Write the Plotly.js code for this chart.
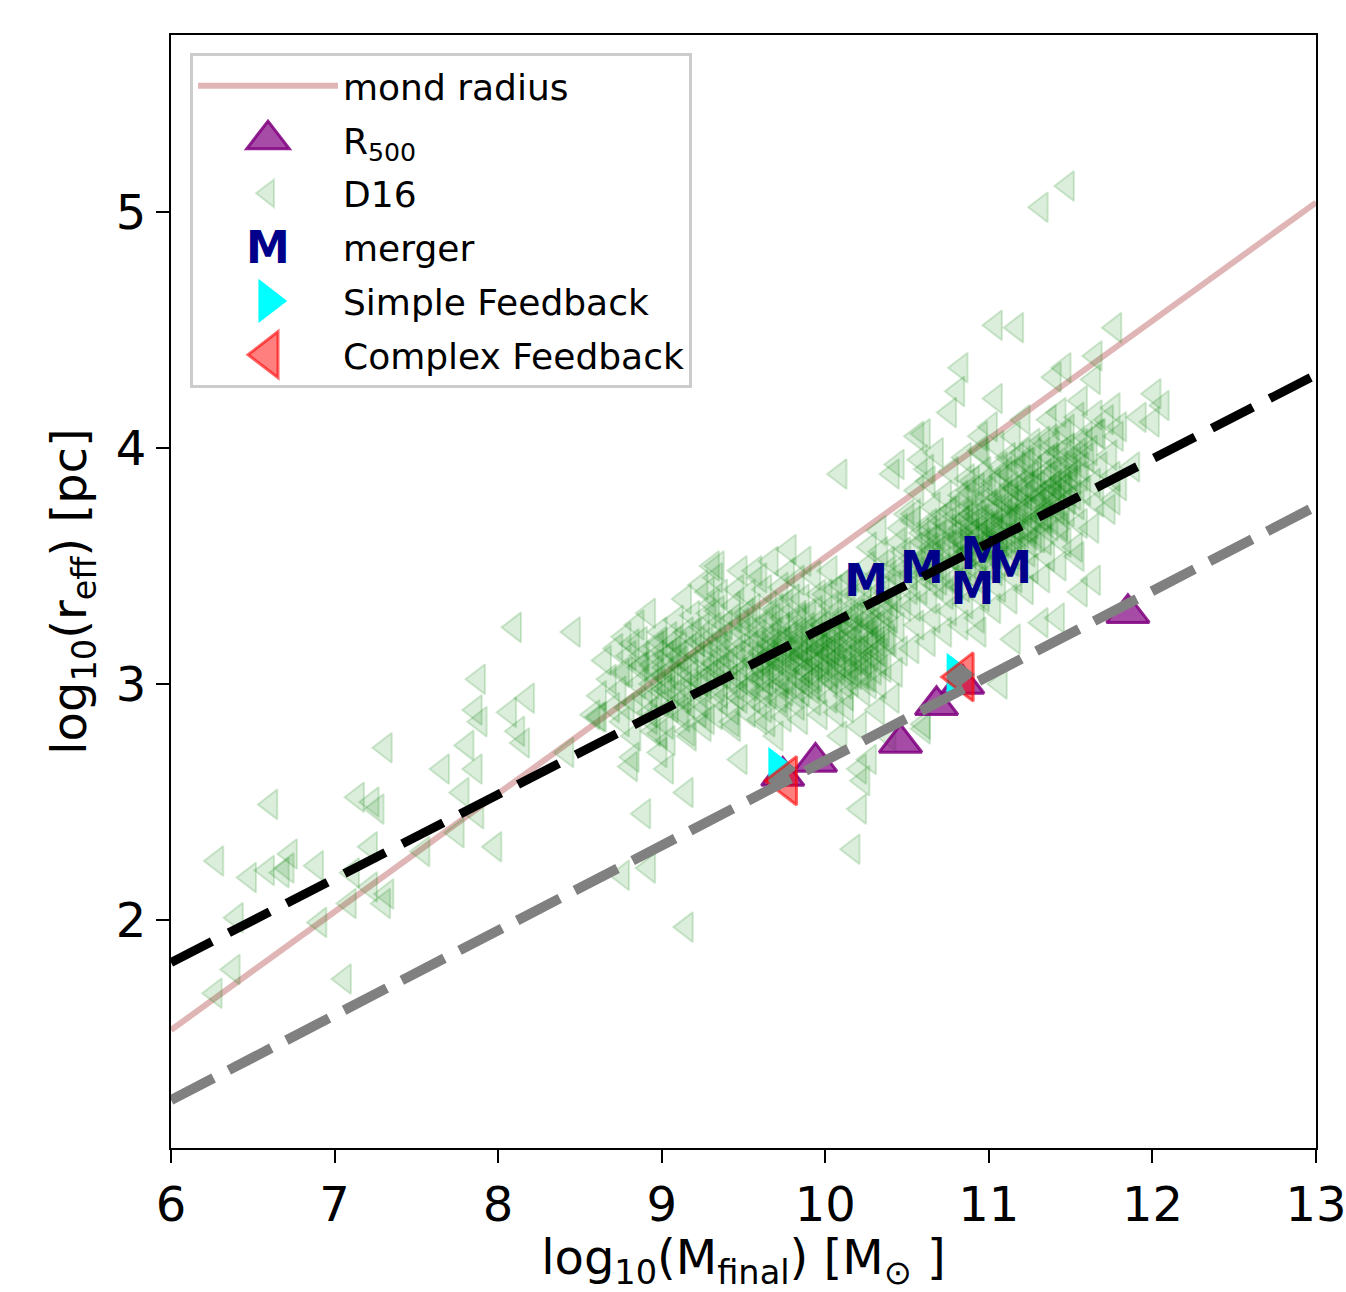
<!DOCTYPE html>
<html>
<head>
<meta charset="utf-8">
<script src="https://cdn.plot.ly/plotly-3.0.1.min.js"></script>
<style>
  html, body { margin: 0; padding: 0; background: #ffffff; }
  #chart { width: 1346px; height: 1292px; }
</style>
</head>
<body>
<div id="chart"></div>
<script>
// ---------------- data ----------------
// straight reference lines (end points at log10 M = 6 and 13)
const lineX = [6, 13];
const mondY = [1.534, 5.04];
const fitBlackY = [1.82, 4.31];
const fitGrayY = [1.237, 3.754];

// axis ticks
const xTicks = [6, 7, 8, 9, 10, 11, 12, 13];
const yTicks = [2, 3, 4, 5];

// R500 (purple up-triangles)
const r500X = [9.74, 9.94, 10.46, 10.68, 10.84, 11.85];
const r500Y = [2.61, 2.67, 2.75, 2.91, 3.00, 3.30];

// merger ("M" text markers)
const mergerX = [10.25, 10.59, 10.96, 10.90, 11.13];
const mergerY = [3.42, 3.475, 3.534, 3.386, 3.475];

// Simple Feedback (cyan right-triangles)
const simpleX = [9.71, 10.80];
const simpleY = [2.64, 3.04];

// Complex Feedback (red left-triangles)
const complexX = [9.76, 10.84];
const complexY = [2.59, 3.03];

// D16 sample (green left-triangles), [log10 M, log10 r]
const d16Left = [
  [8.10,3.24],[8.46,3.22],[7.88,3.02],[8.18,2.94],[7.86,2.89],[8.07,2.88],[7.89,2.84],[8.12,2.80],
  [8.15,2.75],[7.81,2.74],[7.31,2.73],[8.61,2.86],[8.42,2.71],[7.66,2.64],[7.86,2.64],[7.78,2.54],
  [7.14,2.52],[7.23,2.50],[7.26,2.47],[6.61,2.49],[7.87,2.45],[7.75,2.37],[7.98,2.31],[7.54,2.29],
  [7.22,2.31],[6.28,2.25],[6.73,2.28],[6.71,2.22],[6.59,2.21],[6.48,2.18],[6.89,2.23],[6.68,2.20],
  [7.11,2.20],[7.22,2.14],[7.32,2.11],[7.30,2.07],[7.09,2.07],[6.40,2.01],[6.91,1.99],[6.38,1.79],
  [7.06,1.75],[6.27,1.69],[8.58,2.87]
];
const d16Mid = [
  [9.78,3.57],[9.34,3.50],[9.48,3.48],[9.60,3.45],[9.28,3.39],[9.31,3.34],[8.82,3.17],[8.97,3.16],
  [8.76,3.05],[8.87,3.07],[9.03,3.12],[9.11,3.16],[8.62,2.86],[8.79,2.90],[8.93,2.85],[8.99,2.79],
  [8.82,2.69],[8.99,2.71],[9.17,2.78],[9.28,2.85],[9.44,2.82],[9.15,2.54],[8.89,2.45],[9.60,2.85],
  [9.70,2.78],[10.09,2.78],[10.21,2.82],[10.32,2.89],[10.21,2.64],[10.23,2.59],[10.21,2.47],[10.17,2.30],
  [10.41,2.94],[8.92,2.22],[8.76,2.19],[9.15,1.97],[9.03,2.64],[8.81,2.65],[9.48,2.68],[10.39,2.78],
  [10.60,2.81],[10.27,2.68],[8.99,3.18],[9.31,3.50],[10.09,3.89],[10.56,4.05],[10.41,3.89],[10.62,3.91],
  [10.27,3.58],[10.33,3.65],[10.54,3.69],[10.64,3.65],[11.07,3.00],[11.15,3.19],[10.94,3.22],[10.60,2.83]
];
const d16Upper = [
  [11.48,5.11],[11.32,5.02],[11.04,4.52],[11.17,4.51],[11.77,4.51],[10.83,4.34],[11.46,4.34],[11.65,4.39],
  [11.40,4.30],[10.81,4.24],[11.04,4.21],[11.64,4.29],[12.01,4.23],[12.06,4.18],[10.76,4.15],[11.56,4.20],
  [11.76,4.17],[11.92,4.13],[12.00,4.11],[10.60,4.06],[11.01,4.09],[11.21,4.12],[10.68,3.98],[10.44,3.93],
  [10.58,3.95],[10.95,4.05],[10.96,3.98],[11.21,3.98],[11.39,4.01],[11.56,4.02],[11.66,4.06],[11.80,4.09]
];
const d16Right = [
  [11.64,3.44],[11.56,3.39],[11.32,3.26],[11.42,3.28],[11.76,3.78],[11.88,3.92],[11.80,3.84],[11.54,3.54]
];
const d16CoreLow = [
  [8.62,2.95],[8.68,3.02],[8.65,3.10],[8.70,2.90],[8.72,3.15],
  [8.74,2.97],[8.78,3.05],[8.76,2.84],[8.80,3.12],[8.77,3.20],
  [8.84,2.92],[8.86,3.00],[8.88,3.08],[8.83,2.78],[8.87,3.18],[8.85,3.25],
  [8.93,2.88],[8.96,2.95],[8.98,3.02],[8.94,3.08],[8.97,3.12],[8.95,2.80],[8.99,3.22],[8.92,3.30],
  [9.03,2.83],[9.06,2.90],[9.04,2.97],[9.08,3.03],[9.02,3.07],[9.07,3.14],[9.05,3.20],[9.09,3.27],[9.04,2.76],
  [9.13,2.86],[9.16,2.92],[9.14,2.99],[9.18,3.04],[9.12,3.10],[9.17,3.15],[9.15,3.22],[9.19,3.29],[9.14,3.36],[9.16,2.80],
  [9.23,2.88],[9.26,2.95],[9.24,3.01],[9.28,3.06],[9.22,3.12],[9.27,3.18],[9.25,3.24],[9.29,3.30],[9.24,3.42],[9.26,2.82],
  [9.33,2.87],[9.36,2.93],[9.34,2.99],[9.38,3.04],[9.32,3.09],[9.37,3.13],[9.35,3.19],[9.39,3.25],[9.34,3.31],[9.36,3.38],[9.33,3.45],
  [9.43,2.89],[9.46,2.95],[9.44,3.00],[9.48,3.05],[9.42,3.10],[9.47,3.15],[9.45,3.20],[9.49,3.26],[9.44,3.33],[9.46,3.40],[9.43,2.84],
  [9.53,2.88],[9.56,2.94],[9.54,2.99],[9.58,3.03],[9.52,3.07],[9.57,3.11],[9.55,3.16],[9.59,3.21],[9.54,3.26],[9.56,3.32],[9.53,3.38],[9.57,3.48],
  [9.63,2.90],[9.66,2.96],[9.64,3.01],[9.68,3.05],[9.62,3.09],[9.67,3.13],[9.65,3.17],[9.69,3.22],[9.64,3.27],[9.66,3.33],[9.63,3.40],[9.67,3.52],[9.65,2.84],
  [9.73,2.92],[9.76,2.97],[9.74,3.02],[9.78,3.06],[9.72,3.10],[9.77,3.14],[9.75,3.18],[9.79,3.23],[9.74,3.28],[9.76,3.34],[9.73,3.41],[9.77,3.47],[9.75,2.86],
  [9.83,2.91],[9.86,2.97],[9.84,3.02],[9.88,3.06],[9.82,3.10],[9.87,3.14],[9.85,3.19],[9.89,3.24],[9.84,3.29],[9.86,3.36],[9.83,3.44],[9.87,3.52],[9.85,2.85],
  [9.93,2.93],[9.96,2.98],[9.94,3.03],[9.98,3.07],[9.92,3.11],[9.97,3.15],[9.95,3.20],[9.99,3.25],[9.94,3.31],[9.96,3.38],[9.93,3.46],[9.97,2.87],
  [10.03,2.94],[10.06,3.00],[10.04,3.05],[10.08,3.09],[10.02,3.13],[10.07,3.17],[10.05,3.22],[10.09,3.27],[10.04,3.33],[10.06,3.40],[10.03,3.48],[10.07,2.88],
  [10.13,2.95],[10.16,3.01],[10.14,3.06],[10.18,3.10],[10.12,3.14],[10.17,3.19],[10.15,3.24],[10.19,3.30],[10.14,3.37],[10.16,3.45],[10.13,2.90],
  [10.23,2.97],[10.26,3.03],[10.24,3.08],[10.28,3.12],[10.22,3.16],[10.27,3.21],[10.25,3.27],[10.29,3.34],[10.24,3.42],[10.26,3.50],
  [10.33,3.00],[10.36,3.07],[10.34,3.13],[10.38,3.19],[10.32,3.25],[10.37,3.32],[10.35,3.40],[10.39,3.48],[10.34,3.56],
  [10.43,3.05],[10.46,3.14],[10.44,3.24],[10.48,3.33],[10.42,3.42],[10.47,3.50],[10.45,3.60]
];
const d16CoreHigh = [
  [10.53,3.15],[10.56,3.25],[10.54,3.33],[10.58,3.40],[10.52,3.46],[10.57,3.52],[10.55,3.58],[10.59,3.64],[10.54,3.72],[10.56,3.82],
  [10.63,3.18],[10.66,3.28],[10.64,3.36],[10.68,3.42],[10.62,3.48],[10.67,3.53],[10.65,3.58],[10.69,3.63],[10.64,3.68],[10.66,3.75],[10.63,3.86],
  [10.73,3.22],[10.76,3.31],[10.74,3.38],[10.78,3.44],[10.72,3.49],[10.77,3.54],[10.75,3.59],[10.79,3.63],[10.74,3.68],[10.76,3.73],[10.73,3.80],[10.77,3.90],
  [10.83,3.25],[10.86,3.34],[10.84,3.41],[10.88,3.47],[10.82,3.52],[10.87,3.56],[10.85,3.60],[10.89,3.64],[10.84,3.69],[10.86,3.74],[10.83,3.80],[10.87,3.87],[10.85,3.96],
  [10.93,3.28],[10.96,3.37],[10.94,3.44],[10.98,3.50],[10.92,3.55],[10.97,3.59],[10.95,3.63],[10.99,3.67],[10.94,3.72],[10.96,3.77],[10.93,3.83],[10.97,3.90],[10.95,3.99],
  [11.03,3.32],[11.06,3.41],[11.04,3.48],[11.08,3.54],[11.02,3.58],[11.07,3.62],[11.05,3.66],[11.09,3.70],[11.04,3.74],[11.06,3.79],[11.03,3.85],[11.07,3.92],[11.05,4.01],
  [11.13,3.36],[11.16,3.45],[11.14,3.52],[11.18,3.58],[11.12,3.62],[11.17,3.66],[11.15,3.70],[11.19,3.74],[11.14,3.78],[11.16,3.83],[11.13,3.89],[11.17,3.96],[11.15,4.05],
  [11.23,3.40],[11.26,3.49],[11.24,3.56],[11.28,3.62],[11.22,3.66],[11.27,3.70],[11.25,3.74],[11.29,3.78],[11.24,3.83],[11.26,3.88],[11.23,3.94],[11.27,4.02],
  [11.33,3.45],[11.36,3.54],[11.34,3.61],[11.38,3.67],[11.32,3.71],[11.37,3.75],[11.35,3.79],[11.39,3.84],[11.34,3.89],[11.36,3.95],[11.33,4.03],[11.37,4.12],
  [11.43,3.50],[11.46,3.60],[11.44,3.67],[11.48,3.73],[11.42,3.78],[11.47,3.82],[11.45,3.87],[11.49,3.92],[11.44,3.98],[11.46,4.06],[11.43,4.15],
  [11.53,3.58],[11.56,3.68],[11.54,3.76],[11.58,3.82],[11.52,3.87],[11.57,3.92],[11.55,3.98],[11.59,4.05],[11.54,4.13],
  [11.63,3.66],[11.66,3.77],[11.64,3.85],[11.68,3.92],[11.62,3.99],[11.67,4.06],[11.65,4.14],
  [11.73,3.74],[11.76,3.88],[11.74,3.97],[11.78,4.05],[11.72,4.12]
];
const d16DenseA = [
  [9.62,3.02],[9.66,3.12],[9.70,3.06],[9.72,3.18],[9.78,3.00],[9.80,3.10],[9.82,3.16],[9.86,3.05],
  [9.88,3.22],[9.90,3.12],[9.92,3.02],[9.94,3.18],[9.98,3.10],[10.00,3.04],[10.02,3.20],[10.04,3.14],
  [10.08,3.06],[10.10,3.24],[10.12,3.10],[10.14,3.18],[10.18,3.04],[10.20,3.14],[10.22,3.22],[10.24,3.10],
  [10.28,3.18],[10.30,3.06],[10.32,3.14],[10.26,3.28],[10.16,3.28],[10.06,3.30],[9.96,3.26],[9.84,3.28],
  [9.74,3.24],[9.68,3.28],[9.58,3.18],[9.52,3.12],[9.48,3.02],[9.40,3.08],[9.36,3.16],[9.30,3.04],
  [9.26,3.12],[9.20,3.00],[9.14,3.06],[9.10,2.96],[9.04,3.02],[9.00,2.92],[8.94,3.00],[8.90,2.94]
];
const d16DenseB = [
  [10.72,3.58],[10.76,3.66],[10.80,3.52],[10.82,3.62],[10.86,3.70],[10.88,3.56],[10.90,3.64],[10.92,3.76],
  [10.96,3.60],[10.98,3.68],[11.00,3.56],[11.02,3.72],[11.04,3.64],[11.08,3.78],[11.10,3.60],[11.12,3.68],
  [11.14,3.84],[11.18,3.72],[11.20,3.64],[11.22,3.80],[11.26,3.68],[11.28,3.86],[11.30,3.76],[11.34,3.70],
  [11.36,3.82],[11.40,3.90],[11.42,3.74],[11.46,3.84],[11.50,3.94],[11.52,3.80],[11.10,3.90],[11.00,3.82],
  [10.90,3.86],[10.84,3.78],[10.78,3.74],[10.70,3.70],[10.66,3.62],[10.62,3.54],[10.60,3.46],[10.70,3.44],
  [10.80,3.42],[10.94,3.48],[11.06,3.52],[11.16,3.56],[11.30,3.62],[11.44,3.66],[11.56,3.88],[11.60,3.96],
  [11.48,4.00],[11.38,3.96],[11.24,3.94],[11.12,3.96]
];
const d16DenseC = [
  [9.55,3.00],[9.58,3.08],[9.61,3.14],[9.64,3.04],[9.67,3.20],[9.70,3.10],[9.73,3.00],[9.76,3.16],
  [9.79,3.08],[9.82,3.22],[9.85,3.12],[9.88,3.00],[9.91,3.18],[9.94,3.08],[9.97,3.24],[10.00,3.14],
  [10.03,3.02],[10.06,3.20],[10.09,3.12],[10.12,3.30],[10.15,3.04],[10.18,3.22],[10.21,3.10],[10.24,3.34],
  [10.27,3.00],[10.30,3.24],[10.33,3.10],[10.36,3.30],[10.39,3.18],[10.42,3.36],
  [9.60,3.24],[9.70,3.32],[9.80,3.36],[9.90,3.30],[10.00,3.38],[10.10,3.42],[10.20,3.38],[10.30,3.44],[10.40,3.28],
  [9.62,2.96],[9.72,2.94],[9.82,2.96],[9.92,2.98],[10.02,3.08],[10.12,3.00],[10.22,3.04],[10.32,3.18],
  [9.65,3.10],[9.75,3.12],[9.85,3.16],[9.95,3.14],[10.05,3.16],[10.15,3.14],[10.25,3.16],[10.35,3.22],
  [9.68,3.16],[9.78,3.20],[9.88,3.10],[9.98,3.20],[10.08,3.24],[10.18,3.28],[10.28,3.26]
];
const d16DenseD = [
  [10.80,3.60],[10.83,3.66],[10.86,3.58],[10.89,3.72],[10.92,3.62],[10.95,3.70],[10.98,3.58],[11.01,3.76],
  [11.04,3.68],[11.07,3.60],[11.10,3.80],[11.13,3.70],[11.16,3.62],[11.19,3.84],[11.22,3.74],[11.25,3.66],
  [11.28,3.90],[11.31,3.80],[11.34,3.72],[11.37,3.88],[11.40,3.78],[11.43,3.94],[11.46,3.86],[11.49,3.78],[11.52,3.96],
  [10.85,3.50],[10.95,3.54],[11.05,3.58],[11.15,3.64],[11.25,3.60],[11.35,3.66],[11.45,3.72],
  [10.88,3.82],[10.98,3.86],[11.08,3.88],[11.18,3.92],[11.28,3.98],[11.38,4.04],[11.48,4.08],
  [10.90,3.68],[11.00,3.66],[11.10,3.72],[11.20,3.78],[11.30,3.84],[11.40,3.84],[11.50,3.88],
  [10.93,3.58],[11.03,3.62],[11.13,3.76],[11.23,3.84],[11.33,3.78],[11.43,3.82],
  [10.40,3.34],[10.44,3.46],[10.48,3.56],[10.52,3.40],[10.56,3.50],[10.60,3.60],[10.64,3.50],[10.68,3.58],
  [10.46,3.66],[10.50,3.72],[10.38,3.52]
];
const d16DenseE = [
  [9.02,2.98],[9.06,3.06],[9.10,3.12],[9.14,2.94],[9.18,3.08],[9.22,3.18],[9.26,3.00],[9.30,3.14],
  [9.34,3.06],[9.38,3.20],[9.42,3.02],[9.46,3.12],[9.50,3.22],[9.44,3.28],[9.32,3.24],[9.20,3.22],
  [9.08,3.18],[9.12,2.88],[9.24,2.92],[9.36,2.96],[9.48,2.94],[9.52,3.30],[8.96,3.06],[8.88,3.12]
];

const d16All = [].concat(d16Left, d16Mid, d16Upper, d16Right, d16CoreLow, d16CoreHigh,
                         d16DenseA, d16DenseB, d16DenseC, d16DenseD, d16DenseE);
const d16X = d16All.map(p => p[0]);
const d16Y = d16All.map(p => p[1]);

// ---------------- figure ----------------
const FONT = 'DejaVu Sans, Verdana, sans-serif';

const traces = [
  { type: 'scatter', mode: 'lines', name: 'mond radius', x: lineX, y: mondY,
    line: { color: 'rgba(165,42,42,0.35)', width: 6 }, legendrank: 1, legendgroup: 'g1' },
  { type: 'scatter', mode: 'markers', name: 'D16', x: d16X, y: d16Y,
    marker: { symbol: 'triangle-left', size: 26, color: 'rgba(0,128,0,0.14)',
              line: { color: 'rgba(0,128,0,0.17)', width: 2 } }, legendrank: 3, legendgroup: 'g3' },
  { type: 'scatter', mode: 'markers', name: 'R<sub>500</sub>', x: r500X, y: r500Y,
    marker: { symbol: 'triangle-up', size: 37, color: 'rgba(128,0,128,0.7)',
              line: { color: 'rgba(128,0,128,0.85)', width: 3 } }, legendrank: 2, legendgroup: 'g2' },
  { type: 'scatter', mode: 'text', name: 'merger', x: mergerX, y: mergerY, text: mergerX.map(() => 'M'),
    textposition: 'middle center',
    textfont: { family: FONT, size: 44, color: '#00008b', weight: 'bold' }, legendrank: 4, legendgroup: 'g4' },
  { type: 'scatter', mode: 'markers', name: 'Simple Feedback', x: simpleX, y: simpleY,
    marker: { symbol: 'triangle-right', size: 38, color: '#00ffff', line: { width: 0 } }, legendrank: 5, legendgroup: 'g5' },
  { type: 'scatter', mode: 'markers', name: 'Complex Feedback', x: complexX, y: complexY,
    marker: { symbol: 'triangle-left', size: 42, color: 'rgba(255,0,0,0.5)',
              line: { color: 'rgba(255,0,0,0.6)', width: 3 } }, legendrank: 6, legendgroup: 'g6' },
  { type: 'scatter', mode: 'lines', name: 'fit1', x: lineX, y: fitBlackY, showlegend: false,
    line: { color: '#000000', width: 9, dash: '46px,19px' } },
  { type: 'scatter', mode: 'lines', name: 'fit2', x: lineX, y: fitGrayY, showlegend: false,
    line: { color: '#808080', width: 10, dash: '48px,17px' } }
];

const axisCommon = {
  showgrid: false, zeroline: false, showline: true, mirror: true,
  linecolor: '#000000', linewidth: 2,
  ticks: 'outside', ticklen: 13, tickwidth: 2, tickcolor: '#000000',
  ticklabeloverflow: 'allow',
  tickfont: { family: FONT, size: 48, color: '#000000' }
};

const layout = {
  width: 1346, height: 1292,
  paper_bgcolor: '#ffffff', plot_bgcolor: '#ffffff',
  margin: { l: 171, r: 30, t: 35, b: 144, pad: 0 },
  font: { family: FONT, color: '#000000' },
  showlegend: true,
  legend: {
    x: 0.0166, y: 0.984, xanchor: 'left', yanchor: 'top',
    bgcolor: 'rgba(255,255,255,0.8)', bordercolor: '#cccccc', borderwidth: 3,
    font: { family: FONT, size: 36, color: '#000000' },
    itemwidth: 140, itemsizing: 'trace', traceorder: 'grouped', tracegroupgap: 4
  },
  xaxis: Object.assign({}, axisCommon, {
    range: [6, 13], tickmode: 'array', tickvals: xTicks, ticktext: xTicks.map(String),
    title: { text: 'log<sub>10</sub>(M<sub>final</sub>) [M<sub>⊙</sub> ]', font: { family: FONT, size: 48 }, standoff: 16 }
  }),
  yaxis: Object.assign({}, axisCommon, {
    range: [1.034, 5.75], tickmode: 'array', tickvals: yTicks, ticktext: yTicks.map(String),
    title: { text: 'log<sub>10</sub>(r<sub>eff</sub>) [pc]', font: { family: FONT, size: 48 }, standoff: 14 }
  })
};

const gd = document.getElementById('chart');
Plotly.newPlot(gd, traces, layout, { displayModeBar: false, staticPlot: true }).then(function () {
  // enlarge legend glyphs to match the reference legend, and draw the "M" glyph
  const scaleFor = { 'D16': 1.5, 'R<sub>500</sub>': 2.3, 'Simple Feedback': 2.4, 'Complex Feedback': 2.5 };
  let centerX = null;
  gd.querySelectorAll('.legend .traces').forEach(function (it) {
    const d = it.__data__;
    const name = (d && d[0] && d[0].trace) ? d[0].trace.name : '';
    const sc = scaleFor[name];
    it.querySelectorAll('path.scatterpts').forEach(function (p) {
      const t = p.getAttribute('transform') || '';
      const m = t.match(/translate\(\s*([-\d.]+)/);
      if (m && centerX === null) centerX = parseFloat(m[1]);
      if (sc) {
        p.setAttribute('transform', t + ' scale(' + sc + ')');
        p.style.vectorEffect = 'non-scaling-stroke';
      }
    });
  });
  gd.querySelectorAll('.legend .traces').forEach(function (it) {
    const d = it.__data__;
    const name = (d && d[0] && d[0].trace) ? d[0].trace.name : '';
    if (name === 'merger') {
      const lp = it.querySelector('.legendpoints');
      lp.querySelectorAll('text').forEach(function (t) { t.remove(); });
      const ns = 'http://www.w3.org/2000/svg';
      const tx = document.createElementNS(ns, 'text');
      tx.setAttribute('x', centerX === null ? 75 : centerX);
      tx.setAttribute('y', 0);
      tx.setAttribute('dy', '0.36em');
      tx.setAttribute('text-anchor', 'middle');
      tx.style.fontFamily = FONT;
      tx.style.fontSize = '44px';
      tx.style.fontWeight = 'bold';
      tx.style.fill = '#00008b';
      tx.textContent = 'M';
      lp.appendChild(tx);
    }
  });
});
</script>
</body>
</html>
